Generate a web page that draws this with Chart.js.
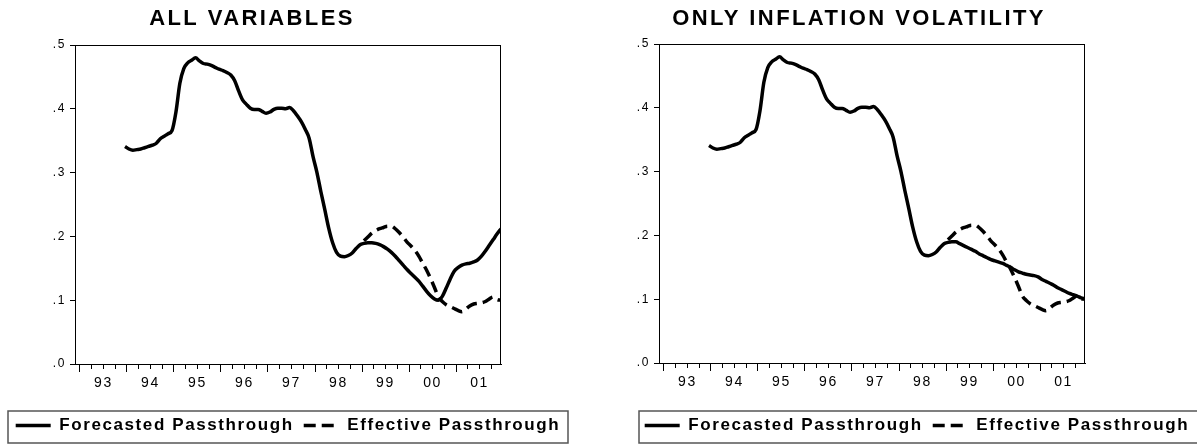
<!DOCTYPE html>
<html>
<head>
<meta charset="utf-8">
<title>Forecasted vs Effective Passthrough</title>
<script src="https://cdn.jsdelivr.net/npm/chart.js@4.4.1/dist/chart.umd.min.js"></script>
<style>
  html, body { margin: 0; background: #fff; overflow: hidden; }
  canvas { position: absolute; top: 0; }
  #chartAll { left: 0; }
  #chartInfl { left: 628px; }
</style>
</head>
<body>
<canvas id="chartAll" width="576" height="444"></canvas>
<canvas id="chartInfl" width="578" height="444"></canvas>
<script>
// monthly data, first forecast observation = 1993M12, last = 2001M12
const startYear = 1993;
const startMonth = 12;
const yearLabels = ["93", "94", "95", "96", "97", "98", "99", "00", "01"];
const yTickLabels = [".0", ".1", ".2", ".3", ".4", ".5"];
const seriesNames = ["Forecasted Passthrough", "Effective Passthrough"];

// 1993M12 - 1999M03 (same in both panels)
const forecastCommon = [
  0.341,
  0.337, 0.335, 0.336, 0.337, 0.339, 0.341, 0.343, 0.346, 0.353, 0.357, 0.361, 0.366,
  0.395, 0.440, 0.463, 0.472, 0.476, 0.480, 0.475, 0.471, 0.470, 0.468, 0.465, 0.462,
  0.460, 0.457, 0.453, 0.444, 0.428, 0.414, 0.407, 0.401, 0.399, 0.399, 0.396, 0.393,
  0.395, 0.399, 0.401, 0.401, 0.400, 0.402, 0.397, 0.389, 0.380, 0.368, 0.354, 0.325,
  0.300, 0.270, 0.242, 0.213, 0.190, 0.175, 0.169, 0.168, 0.170, 0.174, 0.181, 0.187,
  0.189, 0.190, 0.190
];
// 1999M04 - 2001M12, "all variables" model
const forecastAllTail = [
  0.189, 0.187, 0.184, 0.180, 0.175, 0.169, 0.162, 0.155, 0.148,
  0.142, 0.136, 0.130, 0.122, 0.114, 0.107, 0.102, 0.100, 0.106, 0.119, 0.133, 0.145,
  0.151, 0.155, 0.157, 0.158, 0.160, 0.163, 0.169, 0.177, 0.186, 0.195, 0.204, 0.212
];
// 1999M04 - 2001M12, "only inflation volatility" model
const forecastInflTail = [
  0.187, 0.184, 0.181, 0.178, 0.175, 0.171, 0.168, 0.165, 0.162,
  0.160, 0.158, 0.156, 0.153, 0.150, 0.146, 0.143, 0.141, 0.139, 0.138, 0.137, 0.135,
  0.131, 0.128, 0.125, 0.122, 0.118, 0.115, 0.112, 0.109, 0.107, 0.105, 0.102, 0.101
];
// 1999M01 - 2001M12
const effective = [
  0.193, 0.199, 0.205, 0.209, 0.212, 0.214, 0.216, 0.216, 0.212, 0.206, 0.199, 0.191,
  0.185, 0.178, 0.169, 0.158, 0.147, 0.134, 0.120, 0.105, 0.098, 0.093, 0.090, 0.087,
  0.084, 0.082, 0.086, 0.091, 0.094, 0.095, 0.096, 0.098, 0.102, 0.105, 0.101, 0.100
];

// month labels 1993M12 .. 2001M12
const months = [];
for (let i = 0; i < forecastCommon.length + forecastAllTail.length; i++) {
  const m = startMonth - 1 + i;
  months.push((startYear + Math.floor(m / 12)) + "M" + String(m % 12 + 1).padStart(2, "0"));
}

// quarterly tick marks, 1993Q1 .. 2001Q4
const quarterTicks = [];
for (let i = 0; i < yearLabels.length * 4; i++) quarterTicks.push(1993 + i * 0.25);

function monthToX(label) {
  const [y, m] = label.split("M").map(Number);
  return y + (m - 0.5) / 12;
}

// series are aligned on the last month
function toPoints(values) {
  const offset = months.length - values.length;
  return values.map((v, i) => ({ x: monthToX(months[offset + i]), y: v }));
}

Chart.defaults.font.family = "Arial, 'Liberation Sans', sans-serif";
Chart.defaults.color = "#000";

// title, plot frame, legend frame and letter spacing
const panelDecor = {
  id: "panelDecor",
  beforeUpdate(chart) { chart.ctx.letterSpacing = "1.6px"; },
  beforeDraw(chart) { chart.ctx.letterSpacing = "1.6px"; },
  afterDraw(chart, args, opts) {
    const { ctx, chartArea: a, legend } = chart;
    ctx.save();
    ctx.strokeStyle = "#000";
    ctx.lineWidth = 1;
    ctx.beginPath();
    ctx.moveTo(Math.round(a.left), Math.round(a.top) + 0.5);
    ctx.lineTo(Math.round(a.right), Math.round(a.top) + 0.5);
    ctx.moveTo(Math.round(a.right) - 0.5, Math.round(a.top));
    ctx.lineTo(Math.round(a.right) - 0.5, Math.round(a.bottom));
    ctx.stroke();

    const mid = legend.top + legend.options.labels.padding + legend.options.labels.font.size / 2;
    ctx.strokeStyle = "#555";
    ctx.lineWidth = 1.5;
    ctx.strokeRect(legend.left + opts.boxLeft, Math.round(mid - 15), legend.right - legend.left - opts.boxLeft - opts.boxRight, 32);

    ctx.letterSpacing = "2.4px";
    ctx.font = "bold 22px Arial, 'Liberation Sans', sans-serif";
    ctx.fillStyle = "#000";
    ctx.textAlign = "center";
    ctx.textBaseline = "alphabetic";
    ctx.fillText(opts.title, opts.titleX, 25);
    ctx.restore();
  }
};

function makePanel(canvasId, title, forecast, lay) {
  return new Chart(document.getElementById(canvasId), {
    type: "line",
    data: {
      datasets: [
        {
          label: seriesNames[0],
          data: toPoints(forecast),
          borderColor: "#000",
          borderWidth: 3.5,
          pointRadius: 0,
          cubicInterpolationMode: "monotone",
          borderJoinStyle: "round",
        },
        {
          label: seriesNames[1],
          data: toPoints(effective),
          borderColor: "#000",
          borderWidth: 3.5,
          borderDash: [11, 6],
          pointRadius: 0,
          cubicInterpolationMode: "monotone",
          borderJoinStyle: "round",
        },
      ],
    },
    options: {
      responsive: false,
      animation: false,
      layout: { padding: { left: lay.padLeft, top: lay.padTop, right: 0, bottom: 0 } },
      plugins: {
        title: { display: false },
        tooltip: { enabled: false },
        legend: {
          position: "bottom",
          labels: {
            font: { size: 17, weight: "bold" },
            color: "#000",
            padding: 10,
            usePointStyle: true,
            pointStyle: "line",
            pointStyleWidth: 35,
            // the point style legend takes the point's style, so put the line dash back
            // (two dashes only in the key, as in the original)
            generateLabels: (chart) =>
              Chart.defaults.plugins.legend.labels.generateLabels(chart).map((item) => {
                const ds = chart.data.datasets[item.datasetIndex];
                item.lineDash = ds.borderDash ? [12, 6, 12, 100] : [];
                item.lineWidth = ds.borderWidth;
                return item;
              }),
          },
        },
        panelDecor: { title: title, titleX: lay.titleX, boxLeft: lay.boxLeft, boxRight: lay.boxRight },
      },
      scales: {
        x: {
          type: "linear",
          min: 1992.894,
          max: 2001.957,
          afterBuildTicks: (scale) => { scale.ticks = quarterTicks.map((v) => ({ value: v })); },
          afterFit: (scale) => { scale.height = lay.axisHeight; },
          grid: {
            drawOnChartArea: false,
            tickLength: 8,
            tickColor: "#000",
            tickBorderDash: (c) => (c.tick && Number.isInteger(c.tick.value) ? [] : [4, 20]),
          },
          border: { color: "#000", width: 1 },
          ticks: {
            autoSkip: false,
            maxRotation: 0,
            padding: 3,
            font: { size: 14 },
            color: "#000",
            callback: (v) => (v % 1 === 0.5 ? yearLabels[Math.floor(v) - 1993] : ""),
          },
        },
        y: {
          min: 0,
          max: 0.5,
          afterFit: (scale) => { scale.width = lay.yWidth; },
          grid: { drawOnChartArea: false, tickLength: 5, tickColor: "#000" },
          border: { color: "#000", width: 1 },
          ticks: {
            stepSize: 0.1,
            padding: 4,
            font: { size: 12 },
            color: "#000",
            callback: (v, i) => yTickLabels[i],
          },
        },
        y2: {
          position: "right",
          afterFit: (scale) => { scale.width = lay.rightGap; },
          grid: { display: false },
          border: { display: false },
          ticks: { display: false },
        },
      },
    },
    plugins: [panelDecor],
  });
}

makePanel("chartAll", "ALL VARIABLES", forecastCommon.concat(forecastAllTail), {
  padLeft: 0, padTop: 45, yWidth: 75, rightGap: 75, axisHeight: 43,
  titleX: 252, boxLeft: 8, boxRight: 8,
});
makePanel("chartInfl", "ONLY INFLATION VOLATILITY", forecastCommon.concat(forecastInflTail), {
  padLeft: 0, padTop: 44, yWidth: 31, rightGap: 121, axisHeight: 44,
  titleX: 231, boxLeft: 11, boxRight: 3,
});
</script>
</body>
</html>
